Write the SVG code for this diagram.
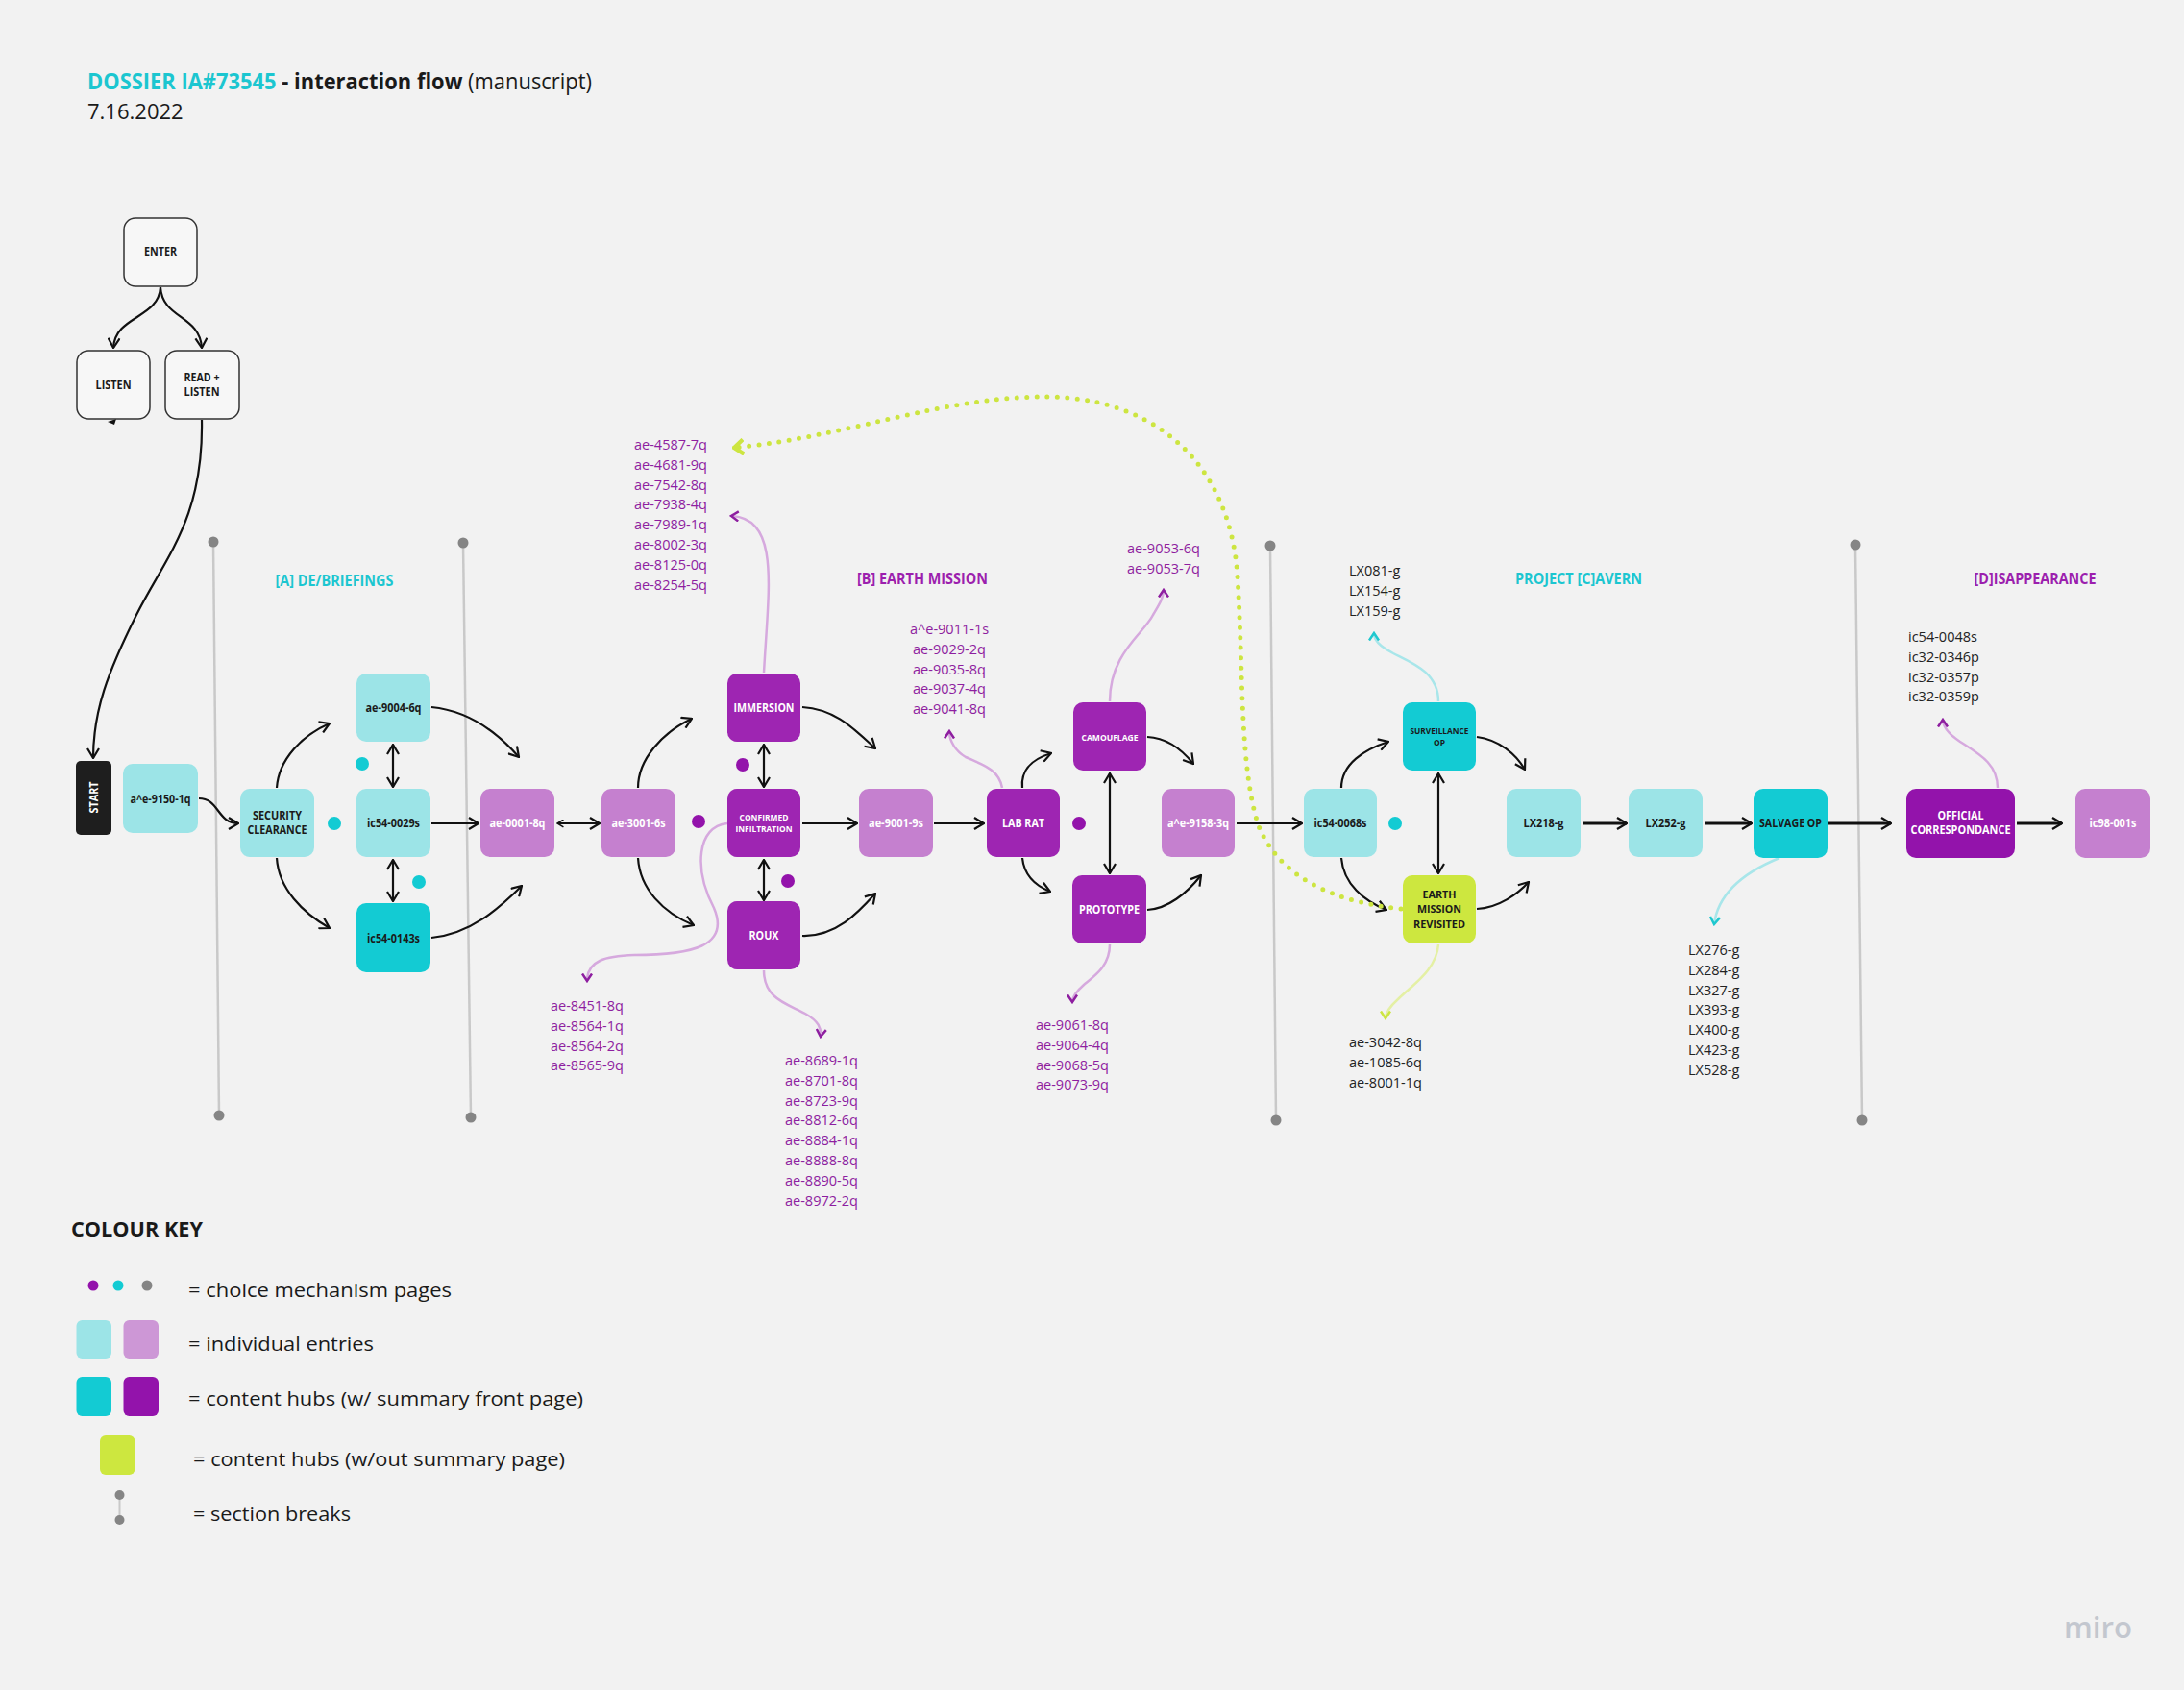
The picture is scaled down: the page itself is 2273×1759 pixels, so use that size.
<svg xmlns="http://www.w3.org/2000/svg" width="2273" height="1759" viewBox="0 0 2273 1759">
<style>
.bg{fill:#f2f2f2}
.t{font-family:"Open Sans","Liberation Sans",sans-serif}
.lbl{font-family:"Open Sans","Liberation Sans",sans-serif;font-weight:700;text-anchor:middle}
.dk{fill:#1a1a1a}
.wh{fill:#ffffff}
.lst{font-family:"Open Sans","Liberation Sans",sans-serif;font-size:14.5px}
.pl{fill:#8e1ea0}
.bl{fill:#222222}
.hdr{font-family:"Open Sans","Liberation Sans",sans-serif;font-weight:700;font-size:15.5px;text-anchor:middle}
.lc{fill:#9ce4e7}.dc{fill:#13cbd3}.lp{fill:#c580cf}.dp{fill:#9e25b2}.dp2{fill:#9313ab}.lm{fill:#cde73f}
.wbox{fill:#f7f7f7;stroke:#333;stroke-width:1.5}
.c{fill:none;stroke:#111;stroke-width:2.2}
.ct{fill:none;stroke:#111;stroke-width:3.2}
.lpc{fill:none;stroke:#d6a9de;stroke-width:2.5}
.lcc{fill:none;stroke:#a8e6ea;stroke-width:2.5}
.llc{fill:none;stroke:#e4f0a4;stroke-width:2.5}
.sec{stroke:#c9c9c9;stroke-width:2.5}
.secd{fill:#858585}
</style>
<defs>
<marker id="ab" viewBox="0 0 12 14" refX="11" refY="7" markerWidth="12" markerHeight="14" markerUnits="userSpaceOnUse" orient="auto-start-reverse"><path d="M1,1 L11,7 L1,13" fill="none" stroke="#111" stroke-width="2.2"/></marker>
<marker id="abs" viewBox="0 0 12 14" refX="11" refY="7" markerWidth="8" markerHeight="9" markerUnits="userSpaceOnUse" orient="auto-start-reverse"><path d="M1,1 L11,7 L1,13" fill="none" stroke="#111" stroke-width="2.5"/></marker>
<marker id="ap" viewBox="0 0 12 14" refX="10" refY="7" markerWidth="10" markerHeight="12" markerUnits="userSpaceOnUse" orient="auto"><path d="M1,1 L10,7 L1,13" fill="none" stroke="#8e1ea0" stroke-width="3"/></marker>
<marker id="acy" viewBox="0 0 12 14" refX="10" refY="7" markerWidth="10" markerHeight="12" markerUnits="userSpaceOnUse" orient="auto"><path d="M1,1 L10,7 L1,13" fill="none" stroke="#1fc8cf" stroke-width="3"/></marker>
<marker id="alm" viewBox="0 0 12 14" refX="10" refY="7" markerWidth="10" markerHeight="12" markerUnits="userSpaceOnUse" orient="auto"><path d="M1,1 L10,7 L1,13" fill="none" stroke="#cde541" stroke-width="3"/></marker>
<marker id="almb" viewBox="0 0 12 16" refX="10" refY="8" markerWidth="13" markerHeight="18" markerUnits="userSpaceOnUse" orient="auto"><path d="M1,1 L10,8 L1,15" fill="none" stroke="#cde541" stroke-width="4"/></marker>
</defs>
<rect class="bg" x="0" y="0" width="2273" height="1759"/>

<g id="title">
<text class="t" x="91" y="93" font-size="23" textLength="525" lengthAdjust="spacingAndGlyphs"><tspan fill="#1cc6d0" font-weight="700">DOSSIER IA#73545</tspan><tspan fill="#1a1a1a" font-weight="700"> - interaction flow</tspan><tspan fill="#1a1a1a"> (manuscript)</tspan></text>
<text class="t" x="91" y="124" font-size="22" fill="#1a1a1a">7.16.2022</text>
</g>

<g id="section-breaks">
<line class="sec" x1="222" y1="564" x2="228" y2="1161"/><circle class="secd" cx="222" cy="564" r="5.5"/><circle class="secd" cx="228" cy="1161" r="5.5"/>
<line class="sec" x1="482" y1="565" x2="490" y2="1163"/><circle class="secd" cx="482" cy="565" r="5.5"/><circle class="secd" cx="490" cy="1163" r="5.5"/>
<line class="sec" x1="1322" y1="568" x2="1328" y2="1166"/><circle class="secd" cx="1322" cy="568" r="5.5"/><circle class="secd" cx="1328" cy="1166" r="5.5"/>
<line class="sec" x1="1931" y1="567" x2="1938" y2="1166"/><circle class="secd" cx="1931" cy="567" r="5.5"/><circle class="secd" cx="1938" cy="1166" r="5.5"/>
</g>

<g id="section-headers">
<text class="hdr" x="348" y="610" fill="#1cc6d0" textLength="123" lengthAdjust="spacingAndGlyphs">[A] DE/BRIEFINGS</text>
<text class="hdr" x="960" y="608" fill="#9c1fae" textLength="136" lengthAdjust="spacingAndGlyphs">[B] EARTH MISSION</text>
<text class="hdr" x="1643" y="608" fill="#1cc6d0" textLength="132" lengthAdjust="spacingAndGlyphs">PROJECT [C]AVERN</text>
<text class="hdr" x="2118" y="608" fill="#9c1fae" textLength="127" lengthAdjust="spacingAndGlyphs">[D]ISAPPEARANCE</text>
</g>

<g id="connectors">
<path class="c" d="M167,299 C165,332 120,328 118,362" marker-end="url(#ab)"/>
<path class="c" d="M167,299 C169,332 208,328 210,362" marker-end="url(#ab)"/>
<path class="c" d="M210,437 C212,540 172,580 142,640 C112,700 97,740 97,789" marker-end="url(#ab)"/>
<path d="M112,439 L121,436 L119,442 Z" fill="#111"/>
<path class="c" d="M207,831 C228,831 226,857 248,857" marker-end="url(#ab)"/>
<path class="c" d="M288,820 C290,790 315,765 343,753" marker-end="url(#ab)"/>
<path class="c" d="M288,893 C290,925 315,950 343,966" marker-end="url(#ab)"/>
<path class="c" d="M409,775 L409,819" marker-start="url(#ab)" marker-end="url(#ab)"/>
<path class="c" d="M409,895 L409,938" marker-start="url(#ab)" marker-end="url(#ab)"/>
<path class="c" d="M449,736 C490,740 520,765 540,788" marker-end="url(#ab)"/>
<path class="c" d="M449,976 C490,972 520,945 543,922" marker-end="url(#ab)"/>
<path class="c" d="M449,857 L498,857" marker-end="url(#ab)"/>
<path class="c" d="M580,857 L624,857" marker-start="url(#abs)" marker-end="url(#ab)"/>
<path class="c" d="M664,820 C664,790 690,762 720,748" marker-end="url(#ab)"/>
<path class="c" d="M664,893 C666,925 690,950 722,963" marker-end="url(#ab)"/>
<path class="c" d="M795,775 L795,819" marker-start="url(#ab)" marker-end="url(#ab)"/>
<path class="c" d="M795,895 L795,937" marker-start="url(#ab)" marker-end="url(#ab)"/>
<path class="c" d="M835,736 C870,738 890,760 911,779" marker-end="url(#ab)"/>
<path class="c" d="M835,974 C870,975 893,950 911,930" marker-end="url(#ab)"/>
<path class="c" d="M835,857 L892,857" marker-end="url(#ab)"/>
<path class="c" d="M972,857 L1024,857" marker-end="url(#ab)"/>
<path class="c" d="M1064,820 C1062,800 1075,790 1094,784" marker-end="url(#ab)"/>
<path class="c" d="M1064,893 C1066,912 1078,922 1093,928" marker-end="url(#ab)"/>
<path class="c" d="M1155,805 L1155,909" marker-start="url(#ab)" marker-end="url(#ab)"/>
<path class="c" d="M1194,767 C1215,768 1230,780 1242,795" marker-end="url(#ab)"/>
<path class="c" d="M1194,947 C1215,946 1235,930 1250,911" marker-end="url(#ab)"/>
<path class="c" d="M1287,857 L1355,857" marker-end="url(#ab)"/>
<path class="c" d="M1396,820 C1396,795 1420,780 1445,772" marker-end="url(#ab)"/>
<path class="c" d="M1396,893 C1398,920 1420,938 1443,947" marker-end="url(#ab)"/>
<path class="c" d="M1497,805 L1497,909" marker-start="url(#ab)" marker-end="url(#ab)"/>
<path class="c" d="M1537,767 C1560,770 1578,785 1587,801" marker-end="url(#ab)"/>
<path class="c" d="M1537,946 C1560,945 1580,930 1591,918" marker-end="url(#ab)"/>
<path class="ct" d="M1647,857 L1693,857" marker-end="url(#ab)"/>
<path class="ct" d="M1774,857 L1823,857" marker-end="url(#ab)"/>
<path class="ct" d="M1903,857 L1968,857" marker-end="url(#ab)"/>
<path class="ct" d="M2099,857 L2146,857" marker-end="url(#ab)"/>

<path class="lpc" d="M795,700 C800,610 812,540 761,537" marker-end="url(#ap)"/>
<path class="lpc" d="M757,857 C725,860 722,905 743,945 C760,985 720,994 660,994 C630,995 611,1000 611,1021" marker-end="url(#ap)"/>
<path class="lpc" d="M795,1010 C795,1040 820,1045 838,1055 C852,1063 855,1070 854,1079" marker-end="url(#ap)"/>
<path class="lpc" d="M1043,820 C1040,800 1020,795 1005,788 C995,782 988,772 988,761" marker-end="url(#ap)"/>
<path class="lpc" d="M1155,730 C1155,680 1190,660 1200,640 C1207,628 1211,622 1211,614" marker-end="url(#ap)"/>
<path class="lpc" d="M1155,983 C1155,1005 1140,1015 1128,1025 C1120,1032 1116,1037 1116,1043" marker-end="url(#ap)"/>
<path class="lpc" d="M2079,820 C2079,795 2060,785 2040,772 C2028,764 2022,756 2022,749" marker-end="url(#ap)"/>
<path class="lcc" d="M1497,730 C1497,700 1470,690 1450,680 C1435,672 1430,666 1430,659" marker-end="url(#acy)"/>
<path class="lcc" d="M1852,893 C1815,908 1788,930 1784,962" marker-end="url(#acy)"/>
<path class="llc" d="M1497,983 C1495,1010 1470,1025 1455,1040 C1446,1048 1442,1054 1442,1060" marker-end="url(#alm)"/>
<path d="M1458,946 C1400,940 1335,920 1310,860 C1290,800 1294,700 1288,600 C1280,480 1200,413 1087,413 C980,413 880,455 764,466" fill="none" stroke="#cde541" stroke-width="5" stroke-linecap="round" stroke-dasharray="0 10.5" marker-end="url(#almb)"/>
</g>

<g id="choice-dots">
<circle cx="377" cy="795" r="7" fill="#13cbd3"/>
<circle cx="348" cy="857" r="7" fill="#13cbd3"/>
<circle cx="436" cy="918" r="7" fill="#13cbd3"/>
<circle cx="1452" cy="857" r="7" fill="#13cbd3"/>
<circle cx="773" cy="796" r="7" fill="#9313ab"/>
<circle cx="727" cy="855" r="7" fill="#9313ab"/>
<circle cx="820" cy="917" r="7" fill="#9313ab"/>
<circle cx="1123" cy="857" r="7" fill="#9313ab"/>
</g>

<g id="n-enter"><rect class="wbox" x="129" y="227" width="76" height="71" rx="12"/><text class="lbl dk" x="167" y="266" font-size="12" textLength="34" lengthAdjust="spacingAndGlyphs">ENTER</text></g>
<g id="n-listen"><rect class="wbox" x="80" y="365" width="76" height="71" rx="12"/><text class="lbl dk" x="118" y="405" font-size="12" textLength="37" lengthAdjust="spacingAndGlyphs">LISTEN</text></g>
<g id="n-readlisten"><rect class="wbox" x="172" y="365" width="77" height="71" rx="12"/><text class="lbl dk" x="210" y="397" font-size="12" textLength="37" lengthAdjust="spacingAndGlyphs">READ +</text><text class="lbl dk" x="210" y="412" font-size="12" textLength="37" lengthAdjust="spacingAndGlyphs">LISTEN</text></g>
<g id="n-start"><rect x="79" y="792" width="37" height="77" rx="5" fill="#1e1e1e"/><text class="lbl wh" font-size="12" transform="translate(97.5,830) rotate(-90)" x="0" y="4.3" textLength="33" lengthAdjust="spacingAndGlyphs">START</text></g>
<g id="n-ae91501q"><rect class="lc" x="128" y="795" width="78" height="72" rx="10"/><text class="lbl dk" x="167" y="835.5" font-size="12.5" textLength="63" lengthAdjust="spacingAndGlyphs">a^e-9150-1q</text></g>
<g id="n-security"><rect class="lc" x="250" y="821" width="77" height="71" rx="10"/><text class="lbl dk" x="288.5" y="853" font-size="11.5" textLength="51" lengthAdjust="spacingAndGlyphs">SECURITY</text><text class="lbl dk" x="288.5" y="868" font-size="11.5" textLength="62" lengthAdjust="spacingAndGlyphs">CLEARANCE</text></g>
<g id="n-ae90046q"><rect class="lc" x="371" y="701" width="77" height="71" rx="10"/><text class="lbl dk" x="409.5" y="740.5" font-size="12.5" textLength="58" lengthAdjust="spacingAndGlyphs">ae-9004-6q</text></g>
<g id="n-ic540029s"><rect class="lc" x="371" y="821" width="77" height="71" rx="10"/><text class="lbl dk" x="409.5" y="861" font-size="12.5" textLength="55" lengthAdjust="spacingAndGlyphs">ic54-0029s</text></g>
<g id="n-ic540143s"><rect class="dc" x="371" y="940" width="77" height="72" rx="10"/><text class="lbl dk" x="409.5" y="980.5" font-size="12.5" textLength="55" lengthAdjust="spacingAndGlyphs">ic54-0143s</text></g>
<g id="n-ae00018q"><rect class="lp" x="500" y="821" width="77" height="71" rx="10"/><text class="lbl wh" x="538.5" y="861" font-size="12.5" textLength="58" lengthAdjust="spacingAndGlyphs">ae-0001-8q</text></g>
<g id="n-ae30016s"><rect class="lp" x="626" y="821" width="77" height="71" rx="10"/><text class="lbl wh" x="664.5" y="861" font-size="12.5" textLength="56" lengthAdjust="spacingAndGlyphs">ae-3001-6s</text></g>
<g id="n-immersion"><rect class="dp" x="757" y="701" width="76" height="71" rx="10"/><text class="lbl wh" x="795" y="740.5" font-size="12" textLength="63" lengthAdjust="spacingAndGlyphs">IMMERSION</text></g>
<g id="n-confirmed"><rect class="dp" x="757" y="821" width="76" height="71" rx="10"/><text class="lbl wh" x="795" y="854" font-size="9" textLength="51" lengthAdjust="spacingAndGlyphs">CONFIRMED</text><text class="lbl wh" x="795" y="866" font-size="9" textLength="59" lengthAdjust="spacingAndGlyphs">INFILTRATION</text></g>
<g id="n-roux"><rect class="dp" x="757" y="938" width="76" height="71" rx="10"/><text class="lbl wh" x="795" y="978" font-size="12" textLength="31" lengthAdjust="spacingAndGlyphs">ROUX</text></g>
<g id="n-ae90019s"><rect class="lp" x="894" y="821" width="77" height="71" rx="10"/><text class="lbl wh" x="932.5" y="861" font-size="12.5" textLength="57" lengthAdjust="spacingAndGlyphs">ae-9001-9s</text></g>
<g id="n-labrat"><rect class="dp" x="1027" y="821" width="76" height="71" rx="10"/><text class="lbl wh" x="1065" y="861" font-size="12" textLength="44" lengthAdjust="spacingAndGlyphs">LAB RAT</text></g>
<g id="n-camouflage"><rect class="dp" x="1117" y="731" width="76" height="71" rx="10"/><text class="lbl wh" x="1155" y="770.5" font-size="9" textLength="59" lengthAdjust="spacingAndGlyphs">CAMOUFLAGE</text></g>
<g id="n-prototype"><rect class="dp" x="1116" y="911" width="77" height="71" rx="10"/><text class="lbl wh" x="1154.5" y="951" font-size="12" textLength="63" lengthAdjust="spacingAndGlyphs">PROTOTYPE</text></g>
<g id="n-ae91583q"><rect class="lp" x="1209" y="821" width="76" height="71" rx="10"/><text class="lbl wh" x="1247" y="861" font-size="12.5" textLength="64" lengthAdjust="spacingAndGlyphs">a^e-9158-3q</text></g>
<g id="n-ic540068s"><rect class="lc" x="1357" y="821" width="76" height="71" rx="10"/><text class="lbl dk" x="1395" y="861" font-size="12.5" textLength="55" lengthAdjust="spacingAndGlyphs">ic54-0068s</text></g>
<g id="n-surveillance"><rect class="dc" x="1460" y="731" width="76" height="71" rx="10"/><text class="lbl dk" x="1498" y="764" font-size="8.5" textLength="61" lengthAdjust="spacingAndGlyphs">SURVEILLANCE</text><text class="lbl dk" x="1498" y="776" font-size="8.5" textLength="12" lengthAdjust="spacingAndGlyphs">OP</text></g>
<g id="n-emr"><rect class="lm" x="1460" y="911" width="76" height="71" rx="10"/><text class="lbl dk" x="1498" y="935" font-size="11" textLength="35" lengthAdjust="spacingAndGlyphs">EARTH</text><text class="lbl dk" x="1498" y="950" font-size="11" textLength="46" lengthAdjust="spacingAndGlyphs">MISSION</text><text class="lbl dk" x="1498" y="966" font-size="11" textLength="54" lengthAdjust="spacingAndGlyphs">REVISITED</text></g>
<g id="n-lx218g"><rect class="lc" x="1568" y="821" width="77" height="71" rx="10"/><text class="lbl dk" x="1606.5" y="861" font-size="12.5" textLength="42" lengthAdjust="spacingAndGlyphs">LX218-g</text></g>
<g id="n-lx252g"><rect class="lc" x="1695" y="821" width="77" height="71" rx="10"/><text class="lbl dk" x="1733.5" y="861" font-size="12.5" textLength="42" lengthAdjust="spacingAndGlyphs">LX252-g</text></g>
<g id="n-salvage"><rect class="dc" x="1825" y="821" width="77" height="72" rx="10"/><text class="lbl dk" x="1863.5" y="861" font-size="12" textLength="65" lengthAdjust="spacingAndGlyphs">SALVAGE OP</text></g>
<g id="n-official"><rect class="dp2" x="1984" y="821" width="113" height="72" rx="10"/><text class="lbl wh" x="2040.5" y="853" font-size="12" textLength="48" lengthAdjust="spacingAndGlyphs">OFFICIAL</text><text class="lbl wh" x="2040.5" y="868" font-size="12" textLength="104" lengthAdjust="spacingAndGlyphs">CORRESPONDANCE</text></g>
<g id="n-ic98001s"><rect class="lp" x="2160" y="821" width="78" height="72" rx="10"/><text class="lbl wh" x="2199" y="861" font-size="12.5" textLength="49" lengthAdjust="spacingAndGlyphs">ic98-001s</text></g>

<g id="lists">
<text class="lst pl"><tspan x="660" y="468">ae-4587-7q</tspan><tspan x="660" dy="20.8">ae-4681-9q</tspan><tspan x="660" dy="20.8">ae-7542-8q</tspan><tspan x="660" dy="20.8">ae-7938-4q</tspan><tspan x="660" dy="20.8">ae-7989-1q</tspan><tspan x="660" dy="20.8">ae-8002-3q</tspan><tspan x="660" dy="20.8">ae-8125-0q</tspan><tspan x="660" dy="20.8">ae-8254-5q</tspan></text>
<text class="lst pl" text-anchor="middle"><tspan x="988" y="660">a^e-9011-1s</tspan><tspan x="988" dy="20.8">ae-9029-2q</tspan><tspan x="988" dy="20.8">ae-9035-8q</tspan><tspan x="988" dy="20.8">ae-9037-4q</tspan><tspan x="988" dy="20.8">ae-9041-8q</tspan></text>
<text class="lst pl"><tspan x="573" y="1052">ae-8451-8q</tspan><tspan x="573" dy="20.8">ae-8564-1q</tspan><tspan x="573" dy="20.8">ae-8564-2q</tspan><tspan x="573" dy="20.8">ae-8565-9q</tspan></text>
<text class="lst pl"><tspan x="817" y="1109">ae-8689-1q</tspan><tspan x="817" dy="20.8">ae-8701-8q</tspan><tspan x="817" dy="20.8">ae-8723-9q</tspan><tspan x="817" dy="20.8">ae-8812-6q</tspan><tspan x="817" dy="20.8">ae-8884-1q</tspan><tspan x="817" dy="20.8">ae-8888-8q</tspan><tspan x="817" dy="20.8">ae-8890-5q</tspan><tspan x="817" dy="20.8">ae-8972-2q</tspan></text>
<text class="lst pl"><tspan x="1173" y="576">ae-9053-6q</tspan><tspan x="1173" dy="20.8">ae-9053-7q</tspan></text>
<text class="lst pl"><tspan x="1078" y="1072">ae-9061-8q</tspan><tspan x="1078" dy="20.8">ae-9064-4q</tspan><tspan x="1078" dy="20.8">ae-9068-5q</tspan><tspan x="1078" dy="20.8">ae-9073-9q</tspan></text>
<text class="lst bl"><tspan x="1404" y="599">LX081-g</tspan><tspan x="1404" dy="20.8">LX154-g</tspan><tspan x="1404" dy="20.8">LX159-g</tspan></text>
<text class="lst bl"><tspan x="1404" y="1090">ae-3042-8q</tspan><tspan x="1404" dy="20.8">ae-1085-6q</tspan><tspan x="1404" dy="20.8">ae-8001-1q</tspan></text>
<text class="lst bl"><tspan x="1757" y="994">LX276-g</tspan><tspan x="1757" dy="20.8">LX284-g</tspan><tspan x="1757" dy="20.8">LX327-g</tspan><tspan x="1757" dy="20.8">LX393-g</tspan><tspan x="1757" dy="20.8">LX400-g</tspan><tspan x="1757" dy="20.8">LX423-g</tspan><tspan x="1757" dy="20.8">LX528-g</tspan></text>
<text class="lst bl"><tspan x="1986" y="668">ic54-0048s</tspan><tspan x="1986" dy="20.8">ic32-0346p</tspan><tspan x="1986" dy="20.8">ic32-0357p</tspan><tspan x="1986" dy="20.8">ic32-0359p</tspan></text>
</g>

<g id="colour-key">
<text class="t" x="74" y="1287" font-size="21" font-weight="700" fill="#1a1a1a" textLength="137" lengthAdjust="spacingAndGlyphs">COLOUR KEY</text>
<circle cx="97" cy="1338" r="5.5" fill="#9313ab"/><circle cx="123" cy="1338" r="5.5" fill="#13cbd3"/><circle cx="153" cy="1338" r="5.5" fill="#858585"/>
<text class="t" x="196" y="1350" font-size="20" fill="#1a1a1a" textLength="274" lengthAdjust="spacingAndGlyphs">= choice mechanism pages</text>
<rect class="lc" x="79.5" y="1374" width="36.5" height="40" rx="6"/><rect class="lp" x="128.5" y="1374" width="36.5" height="40" rx="6" style="fill:#cd97d6"/>
<text class="t" x="196" y="1406" font-size="20" fill="#1a1a1a" textLength="193" lengthAdjust="spacingAndGlyphs">= individual entries</text>
<rect class="dc" x="79.5" y="1433" width="36.5" height="41" rx="6"/><rect class="dp2" x="128.5" y="1433" width="36.5" height="41" rx="6"/>
<text class="t" x="196" y="1463" font-size="20" fill="#1a1a1a" textLength="411" lengthAdjust="spacingAndGlyphs">= content hubs (w/ summary front page)</text>
<rect class="lm" x="104" y="1494" width="36.5" height="41" rx="6"/>
<text class="t" x="201" y="1526" font-size="20" fill="#1a1a1a" textLength="387" lengthAdjust="spacingAndGlyphs">= content hubs (w/out summary page)</text>
<line x1="124.5" y1="1556" x2="124.5" y2="1582" stroke="#c9c9c9" stroke-width="2"/><circle cx="124.5" cy="1556" r="5" fill="#858585"/><circle cx="124.5" cy="1582" r="5" fill="#858585"/>
<text class="t" x="201" y="1583" font-size="20" fill="#1a1a1a" textLength="164" lengthAdjust="spacingAndGlyphs">= section breaks</text>
</g>

<g id="watermark"><text class="t" x="2148" y="1705" font-size="31" font-weight="600" fill="#c3c7cf" textLength="71" lengthAdjust="spacingAndGlyphs">miro</text></g>
</svg>
